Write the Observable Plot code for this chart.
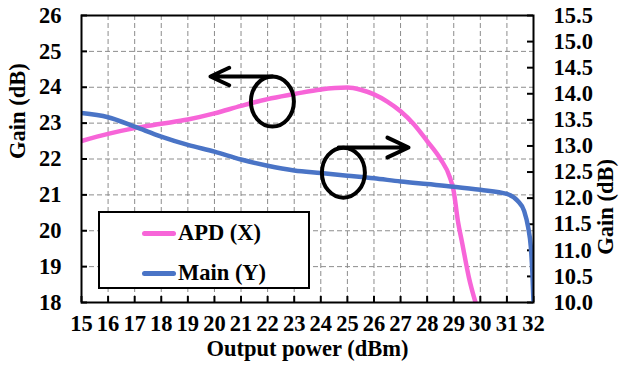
<!DOCTYPE html>
<html>
<head>
<meta charset="utf-8">
<script src="https://cdn.jsdelivr.net/npm/d3@7"></script>
<script src="https://cdn.jsdelivr.net/npm/@observablehq/plot@0.6"></script>
<style>
  body { margin: 0; background: #fff; }
  #chart { position: relative; width: 620px; height: 371px; font-family: "Liberation Serif", "DejaVu Serif", "Times New Roman", Times, serif; font-weight: bold; }
  #chart svg { display: block; }
  .legend { position: absolute; left: 98px; top: 211px; width: 212px; height: 78px; box-sizing: border-box; border: 2px solid #000; background: #fff; }
  .legend .row { position: absolute; left: 42px; height: 24px; display: flex; align-items: center; font-size: 22.5px; color: #000; white-space: nowrap; }
  .legend .sw { width: 34px; height: 5px; border-radius: 3px; margin-right: 2px; }
</style>
</head>
<body>
<div id="chart"></div>
<script>
// APD gain (left axis, dB) versus output power (dBm)
const apdPower = [15, 16, 17, 18, 19, 20, 21, 22, 23, 24, 25, 25.5, 26, 26.5, 27, 27.5, 28, 28.5, 28.85, 29, 29.15, 29.32, 29.57, 29.82];
const apdGain  = [22.5, 22.7, 22.86, 22.98, 23.1, 23.27, 23.48, 23.67, 23.81, 23.94, 23.99, 23.93, 23.8, 23.6, 23.33, 22.97, 22.5, 22.0, 21.5, 21.1, 20.3, 19.65, 18.7, 18.0];

// Main gain (right axis, dB) versus output power (dBm)
const mainPower = [15, 16, 17, 18, 19, 20, 21, 22, 23, 24, 25, 26, 27, 28, 29, 30, 31, 31.4, 31.65, 31.8, 31.9, 31.96, 32];
const mainGain  = [13.63, 13.55, 13.37, 13.18, 13.02, 12.89, 12.74, 12.62, 12.53, 12.48, 12.43, 12.38, 12.32, 12.27, 12.22, 12.16, 12.08, 11.95, 11.75, 11.44, 11.06, 10.55, 10.0];

// Tick labels
const xTicks = [15, 16, 17, 18, 19, 20, 21, 22, 23, 24, 25, 26, 27, 28, 29, 30, 31, 32];
const leftTicks = [18, 19, 20, 21, 22, 23, 24, 25, 26];
const rightTicks = ["10.0", "10.5", "11.0", "11.5", "12.0", "12.5", "13.0", "13.5", "14.0", "14.5", "15.0", "15.5"];

// Series names and colours
const seriesNames = ["APD (X)", "Main (Y)"];
const seriesColors = ["#f765d8", "#4a74c6"];

// Circle-and-arrow callouts pointing to each curve's axis
const calloutCircleX = [22.18, 24.85];
const calloutCircleY = [23.6, 21.62];
const calloutFromX = [22.18, 24.67];
const calloutToX = [19.85, 27.3];
const calloutArrowY = [24.3, 22.32];

// Right axis domain mapped onto the left axis domain
const leftDomain = [18, 26];
const rightDomain = [10, 15.5];
const toLeft = v => leftDomain[0] + (v - rightDomain[0]) * (leftDomain[1] - leftDomain[0]) / (rightDomain[1] - rightDomain[0]);

const apd = apdPower.map((p, i) => ({p, g: apdGain[i]}));
const main = mainPower.map((p, i) => ({p, g: mainGain[i]}));
const callouts = calloutCircleX.map((cx, i) => ({cx, cy: calloutCircleY[i], x1: calloutFromX[i], x2: calloutToX[i], y: calloutArrowY[i]}));

const W = 620, H = 371;
const M = {left: 81, right: 87, top: 15, bottom: 69};
const frameW = W - M.left - M.right;
const frameH = H - M.top - M.bottom;
const serif = '"Liberation Serif", "DejaVu Serif", "Times New Roman", Times, serif';
const font = {fontSize: 22.5, fontWeight: "bold", fontFamily: serif};

// Turn the round dots into slightly tall ellipses
function ellipseDots(index, scales, values, dimensions, context, next) {
  const g = next(index, scales, values, dimensions, context);
  d3.select(g).selectAll("circle").each(function () {
    const c = d3.select(this);
    const cx = +c.attr("cx"), cy = +c.attr("cy");
    c.attr("transform", `translate(${cx},${cy}) scale(0.86,1) translate(${-cx},${-cy})`)
     .attr("vector-effect", "non-scaling-stroke");
  });
  return g;
}

const chart = Plot.plot({
  width: W,
  height: H,
  marginLeft: M.left,
  marginRight: M.right,
  marginTop: M.top,
  marginBottom: M.bottom,
  style: {fontFamily: serif, background: "#fff"},
  x: {domain: [15, 32], axis: null},
  y: {domain: leftDomain, axis: null},
  marks: [
    // dashed grid
    Plot.ruleX(xTicks.slice(1, -1), {stroke: "#8c8c8c", strokeWidth: 1, strokeDasharray: "5,3"}),
    Plot.ruleY(leftTicks.slice(1, -1), {stroke: "#8c8c8c", strokeWidth: 1, strokeDasharray: "5,3"}),
    // inward ticks
    Plot.tickX(xTicks, {x: d => d, stroke: "#000", strokeWidth: 2, insetTop: frameH - 6}),
    Plot.tickY(leftTicks, {y: d => d, stroke: "#000", strokeWidth: 2, insetRight: frameW - 6}),
    Plot.tickY(rightTicks, {y: d => toLeft(+d), stroke: "#000", strokeWidth: 2, insetLeft: frameW - 6}),
    // curves
    Plot.line(apd, {x: "p", y: "g", curve: "monotone-x", stroke: seriesColors[0], strokeWidth: 4.5, clip: true}),
    Plot.line(main, {x: "p", y: d => toLeft(d.g), curve: "monotone-x", stroke: seriesColors[1], strokeWidth: 4.5, clip: true}),
    // callouts
    Plot.dot(callouts, {x: "cx", y: "cy", r: 25, stroke: "#000", strokeWidth: 4, fill: "none", render: ellipseDots}),
    Plot.arrow(callouts, {x1: "x1", y1: "y", x2: "x2", y2: "y", stroke: "#000", strokeWidth: 4, headLength: 9, headAngle: 50, bend: 0}),
    Plot.frame({stroke: "#000", strokeWidth: 2}),
    // tick labels
    Plot.text(xTicks, {x: d => d, frameAnchor: "bottom", dy: 28, text: d => String(d), ...font}),
    Plot.text(leftTicks, {y: d => d, frameAnchor: "left", dx: -20, textAnchor: "end", text: d => String(d), ...font}),
    Plot.text(rightTicks, {y: d => toLeft(+d), frameAnchor: "right", dx: 20, textAnchor: "start", text: d => d, ...font}),
    // axis titles
    Plot.text(["Output power (dBm)"], {frameAnchor: "bottom", dy: 53, text: d => d, ...font}),
    Plot.text(["Gain (dB)"], {frameAnchor: "left", dx: -64, rotate: -90, text: d => d, ...font}),
    Plot.text(["Gain (dB)"], {frameAnchor: "right", dx: 72, rotate: -90, text: d => d, ...font})
  ]
});

const root = document.getElementById("chart");
root.appendChild(chart);

// legend box
const legend = document.createElement("div");
legend.className = "legend";
seriesNames.forEach((name, i) => {
  const row = document.createElement("div");
  row.className = "row";
  row.style.top = (i === 0 ? 8 : 48) + "px";
  const sw = document.createElement("span");
  sw.className = "sw";
  sw.style.background = seriesColors[i];
  row.appendChild(sw);
  row.appendChild(document.createTextNode(name));
  legend.appendChild(row);
});
root.appendChild(legend);
</script>
</body>
</html>
